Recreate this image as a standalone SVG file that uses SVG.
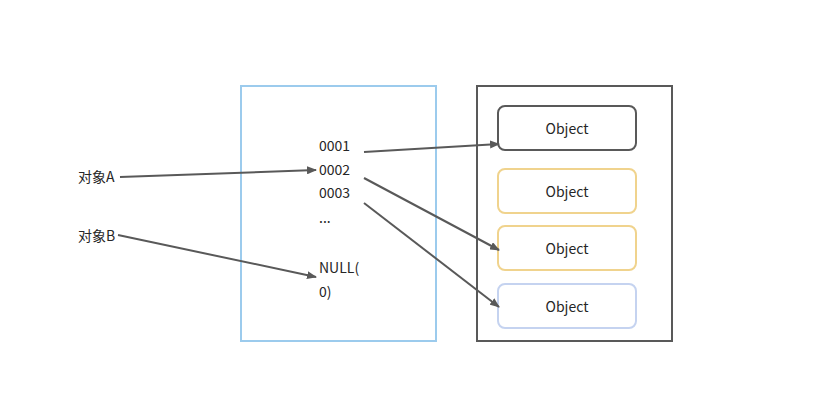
<svg xmlns="http://www.w3.org/2000/svg" width="815" height="402" viewBox="0 0 815 402">
<defs>
<marker id="ah" markerWidth="10" markerHeight="8" refX="9" refY="4" orient="auto" markerUnits="userSpaceOnUse">
<path d="M0,0 L10,4 L0,8 Z" fill="#595959"/>
</marker>
<style>
text{font-family:"Noto Sans CJK SC","Open Sans",sans-serif;font-size:14px;fill:#262626;}
.obj text{text-anchor:middle;dominant-baseline:central;}
.edge{stroke:#595959;stroke-width:2;fill:none;marker-end:url(#ah);}
</style>
</defs>
<rect width="815" height="402" fill="#ffffff"/>
<g id="stack">
<rect x="241" y="86" width="195" height="255" fill="none" stroke="#9ccbed" stroke-width="2"/>
<text x="319" y="151">0001</text>
<text x="319" y="175">0002</text>
<text x="319" y="198">0003</text>
<text x="319" y="223">...</text>
<text x="319" y="273">NULL(</text>
<text x="319" y="297">0)</text>
</g>
<g id="heap">
<rect x="477" y="86" width="195" height="255" fill="none" stroke="#595959" stroke-width="2"/>
</g>
<g id="obj1" class="obj"><rect x="498" y="106" width="138" height="44" rx="7" fill="#fff" stroke="#595959" stroke-width="2"/><text x="567" y="128">Object</text></g>
<g id="obj2" class="obj"><rect x="498" y="169" width="138" height="44" rx="7" fill="#fff" stroke="#f0d38d" stroke-width="2"/><text x="567" y="191">Object</text></g>
<g id="obj3" class="obj"><rect x="498" y="226" width="138" height="44" rx="7" fill="#fff" stroke="#f0d38d" stroke-width="2"/><text x="567" y="248">Object</text></g>
<g id="obj4" class="obj"><rect x="498" y="284" width="138" height="44" rx="7" fill="#fff" stroke="#c5d3f0" stroke-width="2"/><text x="567" y="306">Object</text></g>
<g id="refA"><text x="78" y="182">对象A</text></g>
<g id="refB"><text x="78" y="241">对象B</text></g>
<g id="connectors">
<line class="edge" x1="120" y1="177" x2="316" y2="170"/>
<line class="edge" x1="118" y1="235" x2="316" y2="277"/>
<line class="edge" x1="364" y1="152" x2="499" y2="144"/>
<line class="edge" x1="364" y1="178" x2="499" y2="250"/>
<line class="edge" x1="364" y1="203" x2="499" y2="307"/>
</g>
</svg>
